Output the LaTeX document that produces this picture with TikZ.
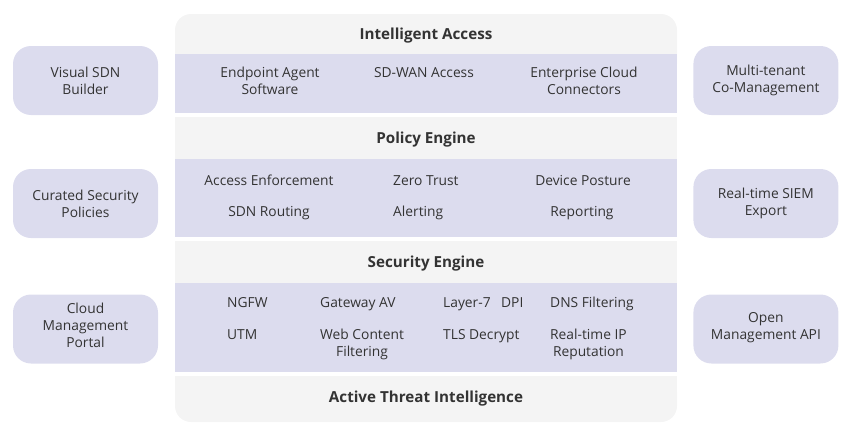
\documentclass[tikz,border=0pt]{standalone}
\usepackage{fontspec}
\setmainfont{Open Sans}
\usetikzlibrary{positioning}
\definecolor{lavender}{HTML}{DCDCEE}
\definecolor{panelgray}{HTML}{F4F4F4}
\definecolor{inktext}{HTML}{333333}
\tikzset{
  basic/.style     = {inner sep=0pt, text=inktext, align=center,
                      font=\fontsize{13.8}{17}\selectfont},
  sidebox/.style   = {basic, fill=lavender, rounded corners=18pt,
                      minimum width=145pt, minimum height=69pt},
  layer title/.style = {basic, anchor=base, font=\fontsize{15.2}{17}\selectfont\bfseries},
  item/.style      = {basic, anchor=base},
  item left/.style = {basic, anchor=base west}
}

\begin{document}
\begin{tikzpicture}[x=1pt,y=-1pt]
\useasboundingbox (0,0) rectangle (864,423);

% the central stack, one section per layer
\fill[panelgray, rounded corners=16pt] (175,14) rectangle (677,80);
\fill[panelgray] (175,40) rectangle (677,113);
\fill[lavender] (175,54) rectangle (677,113);
\fill[panelgray] (175,117) rectangle (677,237);
\fill[lavender] (175,159) rectangle (677,237);
\fill[panelgray] (175,241) rectangle (677,372);
\fill[lavender] (175,283) rectangle (677,372);
\fill[panelgray, rounded corners=16pt] (175,376) rectangle (677,422);
\fill[panelgray] (175,376) rectangle (677,400);

% layer titles
\node[layer title] (access)   at (426,39)  {Intelligent Access};
\node[layer title] (policy)   at (426,143) {Policy Engine};
\node[layer title] (security) at (426,267) {Security Engine};
\node[layer title] (threat)   at (426,402) {Active Threat Intelligence};

% Intelligent Access (two-line items sit on their last baseline)
\node[item] (endpoint)  at (270,94) {Endpoint Agent\\Software};
\node[item] (sdwan)     at (424,77) {SD-WAN Access};
\node[item] (cloudconn) at (584,94) {Enterprise Cloud\\Connectors};

% Policy Engine
\node[item]      (enforce)   at (269,185) {Access Enforcement};
\node[item left] (zerotrust) at (393,185) {Zero Trust};
\node[item]      (posture)   at (583,185) {Device Posture};
\node[item]      (routing)   at (269,216) {SDN Routing};
\node[item left] (alerting)  at (393,216) {Alerting};
\node[item]      (reporting) at (582,216) {Reporting};

% Security Engine
\node[item left] (ngfw)   at (227,307) {NGFW};
\node[item left] (gwav)   at (320,307) {Gateway AV};
\node[item left] (dpi)    at (443,307) {Layer-7\enspace~DPI};
\node[item left] (dns)    at (550,307) {DNS Filtering};
\node[item left] (utm)    at (227,339) {UTM};
\node[item left] (webcf)  at (320,356) {Web Content\\Filtering};
\node[item left] (tls)    at (443,339) {TLS Decrypt};
\node[item left] (iprep)  at (550,356) {Real-time IP\\Reputation};

% side boxes, left column
\node[sidebox] (sdnbuilder) at (85.5,80.5)  {Visual SDN\\Builder};
\node[sidebox] (curated)    at (85.5,203.5) {Curated Security\\Policies};
\node[sidebox, text depth=7pt] (portal) at (85.5,329) {Cloud\\Management\\Portal};

% side boxes, right column
\node[sidebox, right=535pt of sdnbuilder] (cotenant) {Multi-tenant\\Co-Management};
\node[sidebox, right=535pt of curated]    (siem)     {Real-time SIEM\\Export};
\node[sidebox, right=535pt of portal, text depth=7pt] (openapi) {Open\\Management API};
\end{tikzpicture}
\end{document}
